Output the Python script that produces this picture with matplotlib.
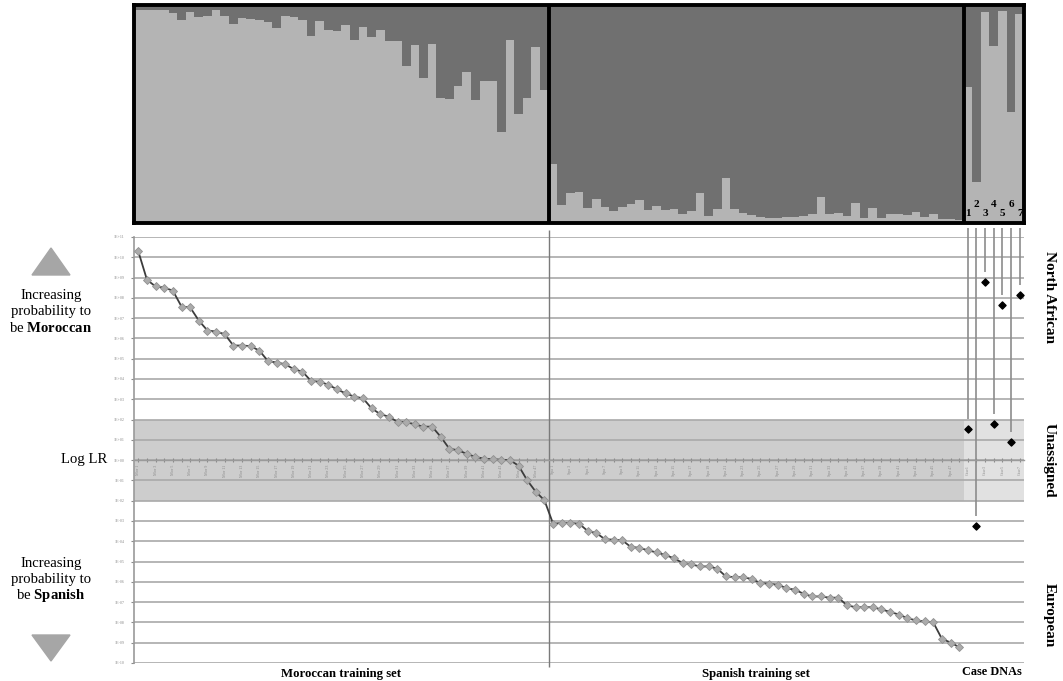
import numpy as np
import matplotlib.pyplot as plt
from matplotlib.patches import Polygon

# STRUCTURE ancestry (light grey = North African component)
mor_q = [0.976, 0.976, 0.976, 0.976, 0.964, 0.929, 0.966, 0.945, 0.950, 0.976,
         0.950, 0.914, 0.942, 0.934, 0.933, 0.920, 0.895, 0.950, 0.945, 0.929,
         0.857, 0.925, 0.886, 0.881, 0.909, 0.840, 0.901, 0.851, 0.887, 0.835,
         0.835, 0.718, 0.818, 0.663, 0.820, 0.572, 0.569, 0.629, 0.691, 0.566,
         0.650, 0.650, 0.418, 0.840, 0.498, 0.575, 0.809, 0.608]
spa_q = [0.271, 0.083, 0.136, 0.141, 0.067, 0.110, 0.072, 0.055, 0.075, 0.088,
         0.107, 0.060, 0.077, 0.058, 0.064, 0.039, 0.056, 0.136, 0.034, 0.064,
         0.208, 0.066, 0.044, 0.038, 0.027, 0.024, 0.025, 0.027, 0.028, 0.033,
         0.042, 0.119, 0.039, 0.047, 0.033, 0.092, 0.024, 0.069, 0.024, 0.039,
         0.039, 0.036, 0.050, 0.028, 0.042, 0.017, 0.017, 0.014]
case_q = [0.624, 0.188, 0.969, 0.812, 0.972, 0.511, 0.958]

# log10 likelihood ratios
mor_llr = [10.29, 8.89, 8.56, 8.51, 8.35, 7.57, 7.53, 6.88, 6.39, 6.34,
           6.21, 5.65, 5.65, 5.62, 5.40, 4.89, 4.81, 4.73, 4.48, 4.36,
           3.90, 3.87, 3.71, 3.49, 3.29, 3.13, 3.05, 2.55, 2.27, 2.14,
           1.89, 1.88, 1.76, 1.65, 1.65, 1.15, 0.56, 0.49, 0.31, 0.16,
           0.07, 0.05, 0.02, 0.00, -0.27, -0.99, -1.56, -1.98]
spa_llr = [-3.13, -3.10, -3.10, -3.13, -3.49, -3.59, -3.90, -3.92, -3.95, -4.28,
           -4.32, -4.45, -4.55, -4.68, -4.84, -5.07, -5.14, -5.24, -5.24, -5.35,
           -5.73, -5.77, -5.77, -5.86, -6.06, -6.09, -6.14, -6.31, -6.39, -6.59,
           -6.72, -6.72, -6.78, -6.78, -7.15, -7.25, -7.25, -7.25, -7.36, -7.48,
           -7.61, -7.79, -7.90, -7.95, -8.00, -8.81, -8.99, -9.22]
case_llr = [1.52, -3.26, 8.76, 1.78, 7.66, 0.90, 8.12]

mor_names = [f"Mor {i}" for i in range(1, len(mor_q) + 1)]
spa_names = [f"Spa {i}" for i in range(1, len(spa_q) + 1)]
case_names = [f"Case{i}" for i in range(1, len(case_q) + 1)]
decades = list(range(-10, 12))

plt.rcParams['font.family'] = ['Liberation Serif', 'DejaVu Serif']
plt.rcParams['mathtext.fontset'] = 'custom'
plt.rcParams['mathtext.rm'] = 'Liberation Serif'
plt.rcParams['mathtext.bf'] = 'Liberation Serif:bold'

W, H = 1063, 681
fig = plt.figure(figsize=(W / 100, H / 100), dpi=100)


def fx(px):
    return px / W


def fy(py):
    return 1 - py / H


n_mor, n_spa, n_case = len(mor_q), len(spa_q), len(case_q)
n_all = n_mor + n_spa + n_case
x_all = np.arange(n_all)
q_all = np.array(mor_q + spa_q + case_q)
split1 = n_mor - 0.5
split2 = n_mor + n_spa - 0.5

# ---- top: ancestry bar plot
ax_top = fig.add_axes([fx(134), fy(223), fx(1024) - fx(134), fy(5) - fy(223)])
ax_top.bar(x_all, q_all, width=1.0, color="#b4b4b4", linewidth=0)
ax_top.bar(x_all, 1 - q_all, bottom=q_all, width=1.0, color="#707070", linewidth=0)
ax_top.set_xlim(-0.5, n_all - 0.5)
ax_top.set_ylim(0, 1)
ax_top.set_xticks([])
ax_top.set_yticks([])
for s in ax_top.spines.values():
    s.set_linewidth(2.8)
    s.set_color("black")
for xs in (split1, split2):
    ax_top.axvline(xs, color="black", lw=2.8)
for i in range(n_case):
    ax_top.text(n_mor + n_spa + i, 0.085 if i % 2 else 0.045, str(i + 1),
                ha="center", va="center", fontsize=8, fontweight="bold")

# ---- bottom: likelihood ratio plot
ax = fig.add_axes([fx(134), fy(663), fx(1024) - fx(134), fy(237) - fy(663)])
ax.set_yscale("log")
ax.set_xlim(-0.5, n_all - 0.5)
ax.set_ylim(10.0 ** decades[0], 10.0 ** decades[-1])

frac = (split2 + 0.5) / n_all
ax.axhspan(1e-2, 1e2, xmin=0, xmax=frac, color="#cdcdcd", lw=0, zorder=0)
ax.axhspan(1e-2, 1e2, xmin=frac, xmax=1, color="#e1e1e1", lw=0, zorder=0)
for d in decades:
    ax.axhline(10.0 ** d, color="#a9a9a9", lw=1.2, zorder=1)

train_x = np.arange(n_mor + n_spa)
train_y = 10.0 ** np.array(mor_llr + spa_llr)
ax.plot(train_x, train_y, color="#3c3c3c", lw=1.3, marker="D", ms=3.8,
        mfc="#ababab", mec="#909090", mew=0.6, zorder=3)

case_x = np.arange(n_mor + n_spa, n_all)
case_y = np.array(case_llr)
ax.scatter(case_x, 10.0 ** case_y, marker="D", s=13, color="black", zorder=4)
leaders = ax.vlines(case_x, 10.0 ** (case_y + 0.5), 10.0 ** 11.45,
                    color="#8c8c8c", lw=1.2, zorder=2)
leaders.set_clip_on(False)
div = ax.vlines([split1], 10.0 ** -10.2, 10.0 ** 11.35, color="#7a7a7a", lw=1.0, zorder=2)
div.set_clip_on(False)

# y axis
ax.set_yticks([10.0 ** d for d in decades])
ax.set_yticklabels([f"1E{d:+03d}" for d in decades])
ax.minorticks_off()
ax.tick_params(axis="y", labelsize=3, colors="#8a8a8a", length=2, pad=5)
ax.spines["left"].set_color("#9a9a9a")
ax.spines["left"].set_linewidth(1.2)
for side in ("top", "right"):
    ax.spines[side].set_visible(False)

# x axis sits on the LR = 1 line
ax.spines["bottom"].set_position(("data", 1.0))
ax.spines["bottom"].set_color("#9a9a9a")
ax.spines["bottom"].set_linewidth(1.0)
names = mor_names + spa_names + case_names
ax.set_xticks(x_all)
ax.set_xticklabels([n if i % 2 == 0 else "" for i, n in enumerate(names)], rotation=90)
ax.tick_params(axis="x", labelsize=3, colors="#8a8a8a", length=2.5, direction="inout", pad=2)

# group labels
ax.text((n_mor - 1) / 2, -0.025, "Moroccan training set", transform=ax.get_xaxis_transform(),
        ha="center", va="center", fontsize=9.2, fontweight="bold")
ax.text(n_mor + (n_spa - 1) / 2, -0.025, "Spanish training set", transform=ax.get_xaxis_transform(),
        ha="center", va="center", fontsize=9.2, fontweight="bold")
fig.text(fx(992), fy(672), "Case DNAs", ha="center", va="center", fontsize=8.8, fontweight="bold")

fig.text(fx(1049), fy(297), "North African", rotation=-90, ha="center", va="center",
         fontsize=11, fontweight="bold")
fig.text(fx(1049), fy(460), "Unassigned", rotation=-90, ha="center", va="center",
         fontsize=11, fontweight="bold")
fig.text(fx(1049), fy(615), "European", rotation=-90, ha="center", va="center",
         fontsize=11, fontweight="bold")

# left annotations
fig.patches.append(Polygon([(fx(32), fy(275)), (fx(70), fy(275)), (fx(51), fy(248))],
                           closed=True, transform=fig.transFigure, color="#a6a6a6"))
fig.patches.append(Polygon([(fx(32), fy(635)), (fx(70), fy(635)), (fx(51), fy(661))],
                           closed=True, transform=fig.transFigure, color="#a6a6a6"))
for txt, py in (("Increasing", 295), ("probability to", 312), ("be $\\mathbf{Moroccan}$", 328),
                ("Increasing", 563), ("probability to", 579), ("be $\\mathbf{Spanish}$", 595)):
    fig.text(fx(51), fy(py), txt, ha="center", va="center", fontsize=10.6)
fig.text(fx(107), fy(460), "Log LR", ha="right", va="center", fontsize=10.6)

fig.savefig("out.png", dpi=100)
